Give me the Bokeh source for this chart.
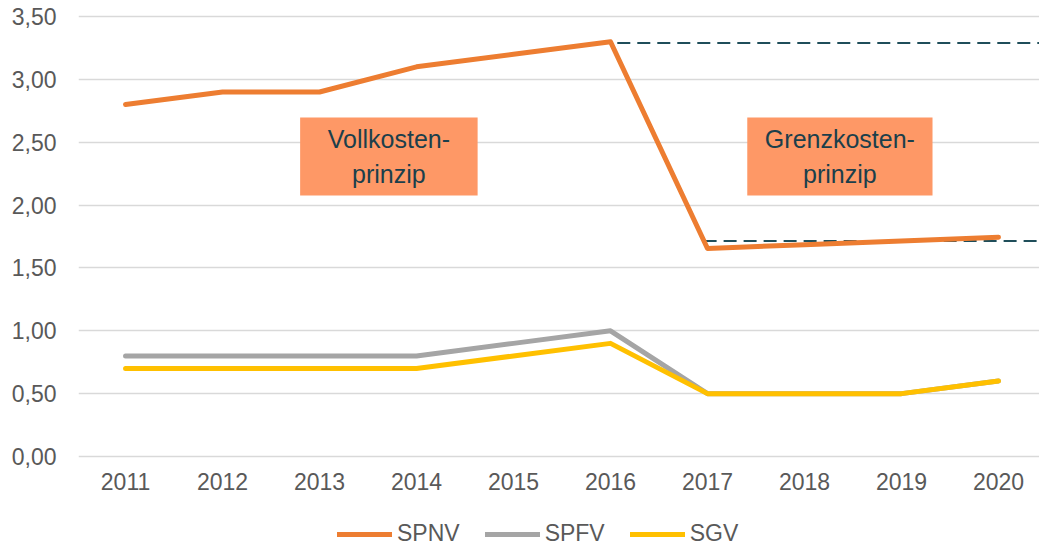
from bokeh.plotting import figure
from bokeh.layouts import column
from bokeh.models import (Range1d, FixedTicker, CustomJSTickFormatter, Legend, LegendItem)
from bokeh.core.properties import value
from bokeh.embed import file_html
from bokeh.resources import INLINE

years = ["2011", "2012", "2013", "2014", "2015", "2016", "2017", "2018", "2019", "2020"]
spnv = [2.80, 2.90, 2.90, 3.10, 3.20, 3.30, 1.655, 1.685, 1.715, 1.745]
spfv = [0.80, 0.80, 0.80, 0.80, 0.90, 1.00, 0.50, 0.50, 0.50, 0.60]
sgv = [0.70, 0.70, 0.70, 0.70, 0.80, 0.90, 0.50, 0.50, 0.50, 0.60]
y_ticks = [0.0, 0.5, 1.0, 1.5, 2.0, 2.5, 3.0, 3.5]
series_names = ["SPNV", "SPFV", "SGV"]
series_colors = ["#ED7D31", "#A5A5A5", "#FFC000"]

# reference levels (dashed)
ref_level = [3.29, 1.715]
ref_start = [5.07, 5.96]

# annotation boxes
box_texts = ["Vollkosten-\nprinzip", "Grenzkosten-\nprinzip"]
box_left = [1.80, 6.41]
box_right = [3.63, 8.32]
box_top = [2.697, 2.697]
box_bottom = [2.076, 2.076]

FONT = "Liberation Sans"
GRAY = "#595959"
W = 1039

x = list(range(len(years)))

p = figure(width=W, height=505, output_backend="svg", toolbar_location=None,
           x_range=Range1d(-0.485, 9.423), y_range=Range1d(-0.016, 3.596),
           min_border_left=78, min_border_right=0, min_border_top=4, min_border_bottom=47)
p.outline_line_color = None

# grid
p.xgrid.visible = False
p.ygrid.grid_line_color = "#D9D9D9"
p.ygrid.grid_line_width = 1.5
p.ygrid.ticker = FixedTicker(ticks=y_ticks)

# axes
p.yaxis.ticker = FixedTicker(ticks=y_ticks)
p.yaxis.formatter = CustomJSTickFormatter(code="return tick.toFixed(2).replace('.', ',');")
p.xaxis.ticker = FixedTicker(ticks=x)
p.xaxis.major_label_overrides = {i: years[i] for i in x}
for ax in (p.xaxis, p.yaxis):
    ax.axis_line_color = None
    ax.major_tick_line_color = None
    ax.minor_tick_line_color = None
    ax.major_tick_out = 0
    ax.major_tick_in = 0
    ax.major_label_text_font = FONT
    ax.major_label_text_font_size = "23px"
    ax.major_label_text_color = GRAY
p.yaxis.major_label_standoff = 22
p.xaxis.major_label_standoff = 14

# dashed reference lines
p.segment(x0=ref_start, y0=ref_level, x1=[9.6, 9.6], y1=ref_level,
          line_color="#1F4E5A", line_width=2, line_dash="13 7")

# series (drawn in order, SGV ends up on top of SPFV)
data = [spnv, spfv, sgv]
for vals, col in zip(data, series_colors):
    p.line(x, vals, line_color=col, line_width=5, line_cap="round", line_join="round")

# boxes
p.quad(left=box_left, right=box_right, top=box_top, bottom=box_bottom,
       fill_color="#FE9866", line_color=None)
cx = [(a + b) / 2 for a, b in zip(box_left, box_right)]
cy = [(a + b) / 2 for a, b in zip(box_top, box_bottom)]
p.text(x=cx, y=cy, text=box_texts, text_align="center", text_baseline="middle",
       text_font=value(FONT), text_font_size="25px", text_color="#1B3F4B",
       text_line_height=1.22)

# legend strip
p2 = figure(width=W, height=42, output_backend="svg", toolbar_location=None,
            x_range=Range1d(100, 101), y_range=Range1d(100, 101),
            min_border_left=0, min_border_right=0, min_border_top=0, min_border_bottom=0)
p2.outline_line_color = None
p2.axis.visible = False
p2.grid.visible = False
items = []
for name, vals, col in zip(series_names, data, series_colors):
    r = p2.line(x, vals, line_color=col, line_width=5, line_cap="round")
    items.append(LegendItem(label=name, renderers=[r]))
legend = Legend(items=items, orientation="horizontal", location=(259, 0),
                margin=0, padding=0, spacing=25, glyph_width=55, glyph_height=24,
                label_standoff=5, label_height=24,
                label_text_font=FONT, label_text_font_size="23px", label_text_color=GRAY,
                border_line_color=None, background_fill_alpha=0)
p2.add_layout(legend, "center")

layout = column(p, p2, spacing=0)
open("out.html", "w").write(file_html(layout, INLINE))
